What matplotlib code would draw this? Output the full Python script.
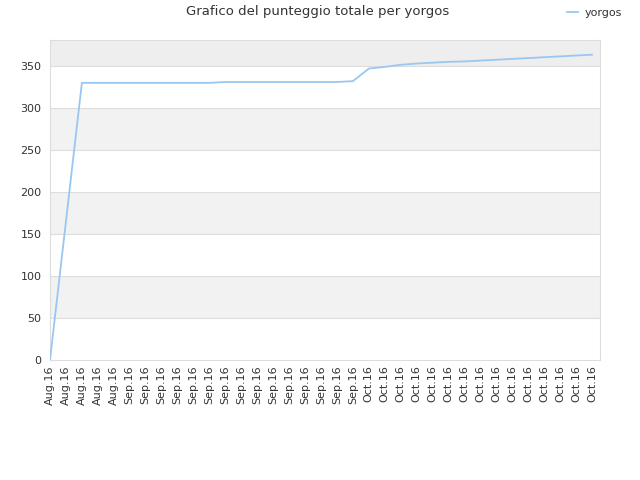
import matplotlib
matplotlib.use("Agg")
import matplotlib.pyplot as plt

# data
labels = ["Aug.16"] * 5 + ["Sep.16"] * 15 + ["Oct.16"] * 15
scores = [0, 165, 330, 330, 330, 330, 330, 330, 330, 330,
          330, 331, 331, 331, 331, 331, 331, 331, 331, 332,
          347, 349, 351.5, 353, 354, 355, 355.5, 356.5, 357.5, 358.5,
          359.5, 360.5, 361.5, 362.5, 363.5]
player = "yorgos"

fig = plt.figure(figsize=(6.4, 4.8), dpi=100)
ax = fig.add_axes([50 / 640, 120 / 480, 550 / 640, 320 / 480])

ymax = 381
# alternating background bands
for i, lo in enumerate(range(0, 400, 50)):
    if lo >= 350:
        col = "#eeeeee"
    elif i % 2 == 1:
        col = "#f2f2f2"
    else:
        col = "white"
    ax.axhspan(lo, min(lo + 50, ymax), color=col, zorder=0, lw=0)
for g in range(50, 400, 50):
    if g < ymax:
        ax.axhline(g, color="#dddddd", lw=0.8, zorder=1)

x = list(range(len(scores)))
ax.plot(x, scores, color="#99c7f2", lw=1.3, label=player, zorder=3)

ax.set_xlim(0, 34.5)
ax.set_ylim(0, ymax)
ax.set_xticks(x)
ax.set_xticklabels(labels, rotation=90, fontsize=8, color="#333333")
ax.set_yticks(range(0, 400, 50))
ax.tick_params(axis="y", labelsize=8, labelcolor="#333333", length=0, pad=6)
ax.tick_params(axis="x", length=0, pad=4)
for s in ax.spines.values():
    s.set_color("#dddddd")

fig.text(318 / 640, 1 - 12 / 480, "Grafico del punteggio totale per yorgos",
         ha="center", va="center", fontsize=9.5, color="#333333")
fig.legend(loc="upper right", bbox_to_anchor=(0.988, 1.004), frameon=False,
           fontsize=8, handlelength=1.0, handletextpad=0.6, labelcolor="#333333")

fig.savefig("out.png", dpi=100)
